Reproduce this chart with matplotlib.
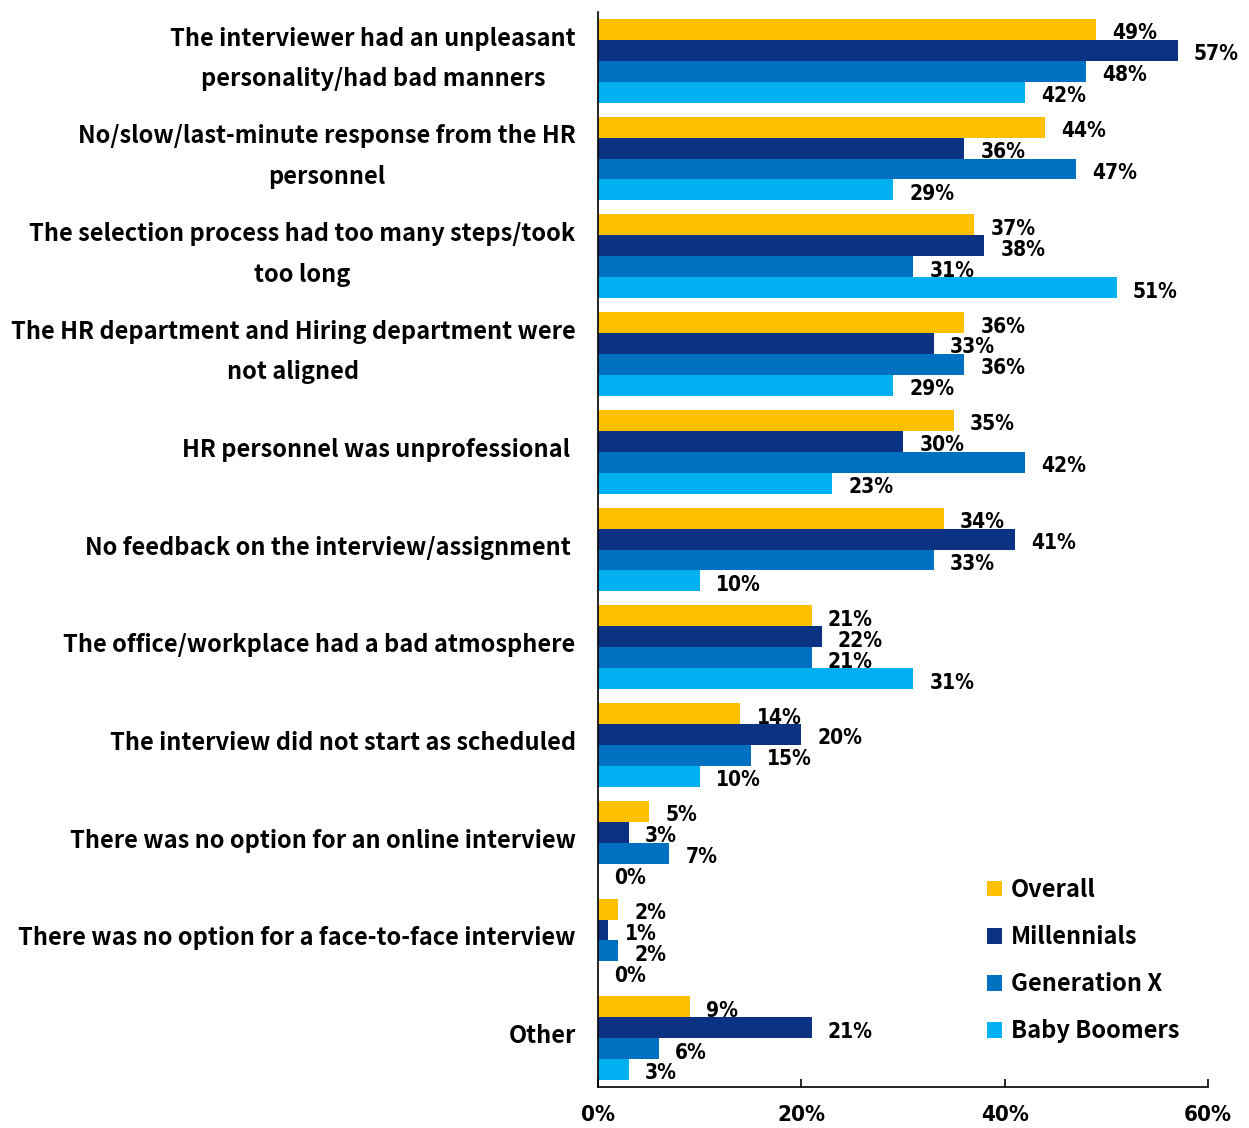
import matplotlib.pyplot as plt
import numpy as np

# データ
categories = [
    "The interviewer had an unpleasant\npersonality/had bad manners",
    "No/slow/last-minute response from the HR\npersonnel",
    "The selection process had too many steps/took\ntoo long",
    "The HR department and Hiring department were\nnot aligned",
    "HR personnel was unprofessional ",
    "No feedback on the interview/assignment ",
    "The office/workplace had a bad atmosphere",
    "The interview did not start as scheduled",
    "There was no option for an online interview",
    "There was no option for a face-to-face interview",
    "Other",
]
overall = [49, 44, 37, 36, 35, 34, 21, 14, 5, 2, 9]
millennials = [57, 36, 38, 33, 30, 41, 22, 20, 3, 1, 21]
gen_x = [48, 47, 31, 36, 42, 33, 21, 15, 7, 2, 6]
boomers = [42, 29, 51, 29, 23, 10, 31, 10, 0, 0, 3]

series = [
    ("Overall", overall, "#FFC000"),
    ("Millennials", millennials, "#0C3383"),
    ("Generation X", gen_x, "#0070C0"),
    ("Baby Boomers", boomers, "#00B0F0"),
]

cat_font = ["Noto Sans CJK JP", "DejaVu Sans"]
num_font = ["DejaVu Sans", "Liberation Sans"]

fig = plt.figure(figsize=(12.49, 11.28), dpi=100)
ax = fig.add_axes([0.4788, 0.0363, 0.4884, 0.9531])

y = np.arange(len(categories))
h = 0.214
for k, (name, vals, col) in enumerate(series):
    pos = y + (k - 1.5) * h
    ax.barh(pos, vals, height=h, color=col, label=name)
    for p, v in zip(pos, vals):
        ax.text(v + 1.6, p + 0.04, f"{v}%", va="center", ha="left",
                fontsize=15, fontweight="bold", family=num_font, fontstretch="condensed")

ax.set_xlim(0, 60)
ax.set_ylim(len(categories) - 0.5, -0.5)
ax.set_xticks([0, 20, 40, 60])
ax.set_xticklabels(["0%", "20%", "40%", "60%"], fontsize=16,
                   fontweight="bold", family=num_font, fontstretch="condensed")
ax.tick_params(axis="x", direction="in", length=6, width=1.2, pad=13)
ax.set_yticks([])
for s in ["top", "right"]:
    ax.spines[s].set_visible(False)
ax.spines["left"].set_linewidth(1.2)
ax.spines["bottom"].set_linewidth(1.2)

# 項目ラベル
for i, c in enumerate(categories):
    ax.text(-2.2, i - 0.02, c, ha="right", va="center", multialignment="center",
            fontsize=17.0, fontweight="bold", family=cat_font, linespacing=1.87,
            transform=ax.transData)

leg = ax.legend(loc="lower left", bbox_to_anchor=(0.603, 0.021), frameon=False,
                handlelength=0.65, handleheight=0.65, handletextpad=0.35,
                labelspacing=0.98, prop={"family": cat_font, "weight": "bold", "size": 17.0})

fig.savefig("out.png", dpi=100)
